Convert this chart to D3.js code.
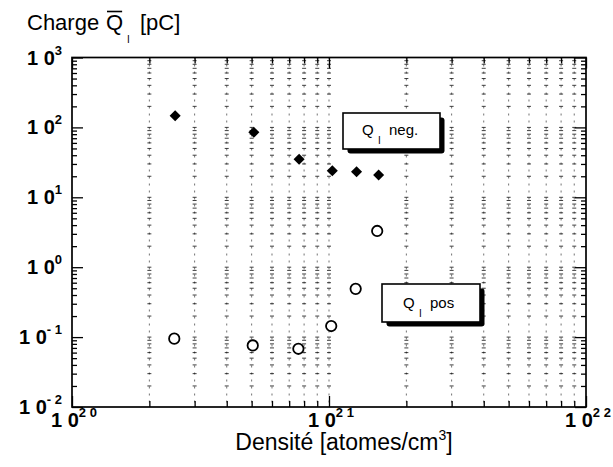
<!DOCTYPE html>
<html>
<head>
<meta charset="utf-8">
<script src="https://cdn.jsdelivr.net/npm/d3@7/dist/d3.min.js"></script>
<style>
  html, body { margin: 0; padding: 0; background: #fff; }
  svg { display: block; }
  text { font-family: "Liberation Sans", Arial, Helvetica, sans-serif; fill: #000; }
</style>
</head>
<body>
<svg id="chart" width="613" height="467"></svg>
<script>
// ---- data ----
const densityNeg = [2.52e20, 5.1e20, 7.65e20, 1.03e21, 1.28e21, 1.56e21];
const chargeNeg  = [147, 85, 35, 24, 23.2, 20.8];
const densityPos = [2.5e20, 5.05e20, 7.6e20, 1.02e21, 1.27e21, 1.54e21];
const chargePos  = [0.095, 0.076, 0.068, 0.144, 0.49, 3.3];
const xTickExps = [20, 21, 22];
const yTickExps = [3, 2, 1, 0, -1, -2];
const legendLabels = ["neg.", "pos"];

const svg = d3.select("#chart");
const L = 72, R = 586, T = 57.5, B = 407;

const x = d3.scaleLog().domain([1e20, 1e22]).range([L, R]);
const y = d3.scaleLog().domain([1e-2, 1e3]).range([B, T]);

// grid positions
const xMinor = [], xMajor = [];
for (let e = 20; e < 22; e++) for (let k = 2; k <= 9; k++) xMinor.push(k * Math.pow(10, e));
xTickExps.forEach(e => xMajor.push(Math.pow(10, e)));
const yMinor = [], yMajor = [];
for (let e = -2; e < 3; e++) for (let k = 2; k <= 9; k++) yMinor.push(k * Math.pow(10, e));
yTickExps.forEach(e => yMajor.push(Math.pow(10, e)));

const gridCols = xMinor.concat([1e21]);
const gridRows = yMinor.concat(yMajor).filter(v => v > 1e-2 && v < 1e3);

// dotted grid columns
const grid = svg.append("g");
grid.selectAll("line.col").data(gridCols).join("line")
  .attr("x1", d => x(d)).attr("x2", d => x(d))
  .attr("y1", T).attr("y2", B)
  .attr("stroke", "#000").attr("stroke-width", 1)
  .attr("stroke-dasharray", "2,5").attr("opacity", 0.55);
// small crosses at intersections
const cross = [];
gridCols.forEach(cx => gridRows.forEach(ry => cross.push([cx, ry])));
grid.selectAll("line.cr").data(cross).join("line")
  .attr("x1", d => x(d[0]) - 2).attr("x2", d => x(d[0]) + 2)
  .attr("y1", d => y(d[1])).attr("y2", d => y(d[1]))
  .attr("stroke", "#000").attr("stroke-width", 1).attr("opacity", 0.75);

// axes ticks (inward on all sides)
function axisTicks(axisFn, scale, vals, size, tr) {
  const g = svg.append("g").attr("transform", tr)
    .call(axisFn(scale).tickValues(vals).tickSize(size).tickFormat(""));
  g.select(".domain").remove();
  g.selectAll("line").attr("stroke", "#000").attr("stroke-width", 1.3);
}
axisTicks(d3.axisBottom, x, xMinor, -6, `translate(0,${B})`);
axisTicks(d3.axisBottom, x, xMajor, -11, `translate(0,${B})`);
axisTicks(d3.axisTop, x, xMinor, -6, `translate(0,${T})`);
axisTicks(d3.axisTop, x, xMajor, -11, `translate(0,${T})`);
axisTicks(d3.axisLeft, y, yMinor, -5, `translate(${L},0)`);
axisTicks(d3.axisLeft, y, yMajor, -11, `translate(${L},0)`);
axisTicks(d3.axisRight, y, yMinor, -5, `translate(${R},0)`);
axisTicks(d3.axisRight, y, yMajor, -11, `translate(${R},0)`);

// frame
svg.append("rect").attr("x", L).attr("y", T).attr("width", R - L).attr("height", B - T)
  .attr("fill", "none").attr("stroke", "#000").attr("stroke-width", 1.7);

// y tick labels
yTickExps.forEach(e => {
  const t = svg.append("text").attr("x", 62).attr("y", y(Math.pow(10, e)) + 7)
    .attr("text-anchor", "end").attr("font-weight", "bold").attr("font-size", 20);
  t.append("tspan").text("1 0");
  t.append("tspan").attr("dy", -10).attr("font-size", 13).text(e < 0 ? "- " + (-e) : String(e));
});
// x tick labels
xTickExps.forEach(e => {
  const t = svg.append("text").attr("x", x(Math.pow(10, e)) + 2).attr("y", 427)
    .attr("text-anchor", "middle").attr("font-weight", "bold").attr("font-size", 20);
  t.append("tspan").text("1 0");
  t.append("tspan").attr("dy", -10).attr("font-size", 13).text(String(e).split("").join(" "));
});

// axis titles
const yt = svg.append("g");
yt.append("text").attr("x", 27).attr("y", 30).attr("font-size", 22).text("Charge");
const qT = yt.append("text").attr("x", 106).attr("y", 30).attr("font-size", 22).text("Q");
const qb = qT.node().getBBox();
yt.append("line").attr("x1", qb.x + 1).attr("x2", qb.x + qb.width - 1)
  .attr("y1", 11.5).attr("y2", 11.5).attr("stroke", "#000").attr("stroke-width", 1.6);
yt.append("text").attr("x", 127).attr("y", 43).attr("font-size", 10).text("I");
yt.append("text").attr("x", 140).attr("y", 30).attr("font-size", 22).text("[pC]");

const xt = svg.append("text").attr("x", 344).attr("y", 450).attr("text-anchor", "middle")
  .attr("font-size", 23);
xt.append("tspan").text("Densité [atomes/cm");
xt.append("tspan").attr("dy", -10).attr("font-size", 14).text("3");
xt.append("tspan").attr("dy", 10).text("]");

// markers
svg.append("g").selectAll("path").data(densityNeg.map((d, i) => [d, chargeNeg[i]])).join("path")
  .attr("transform", d => `translate(${x(d[0])},${y(d[1])})`)
  .attr("d", d3.symbol(d3.symbolDiamond2, 78)).attr("fill", "#000");
svg.append("g").selectAll("circle").data(densityPos.map((d, i) => [d, chargePos[i]])).join("circle")
  .attr("cx", d => x(d[0])).attr("cy", d => y(d[1])).attr("r", 5.2)
  .attr("fill", "#fff").attr("stroke", "#000").attr("stroke-width", 1.8);

// legend boxes
function box(bx, by, w, h, label, tx, ty) {
  const g = svg.append("g");
  g.append("rect").attr("x", bx + 4.5).attr("y", by + 4.5).attr("width", w).attr("height", h)
    .attr("rx", 3).attr("fill", "#000");
  g.append("rect").attr("x", bx).attr("y", by).attr("width", w).attr("height", h)
    .attr("fill", "#fff").attr("stroke", "#000").attr("stroke-width", 1.6);
  g.append("text").attr("x", tx).attr("y", ty).attr("font-size", 15).text("Q");
  g.append("text").attr("x", tx + 16).attr("y", ty + 9).attr("font-size", 10).text("I");
  g.append("text").attr("x", tx + 27).attr("y", ty).attr("font-size", 15).text(label);
}
box(343, 113, 97, 36, legendLabels[0], 362, 135);
box(382, 284, 98, 38, legendLabels[1], 403, 308);
</script>
</body>
</html>
